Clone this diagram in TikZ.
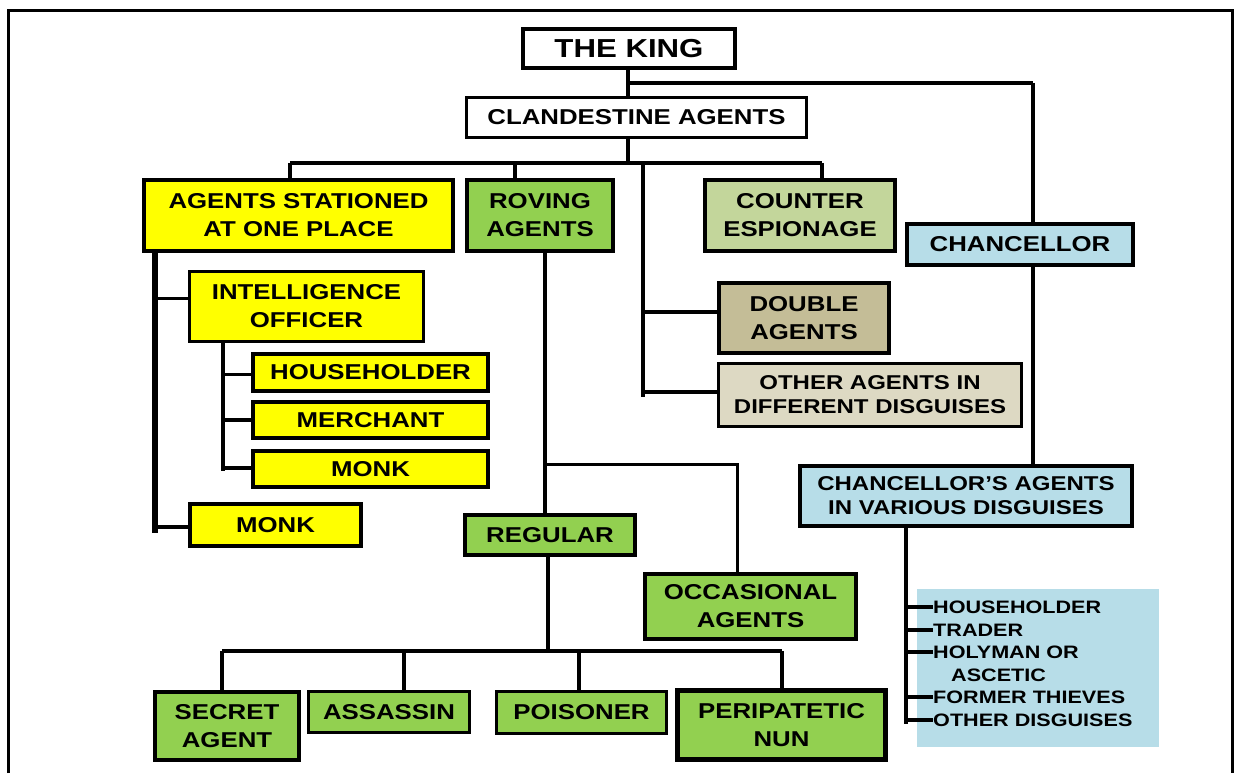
\documentclass[tikz,border=0pt]{standalone}
\usepackage{fontspec}
\usetikzlibrary{calc}
\setmainfont{Liberation Sans}[FakeStretch=1.2]
\definecolor{yel}{HTML}{FFFF00}
\definecolor{grn}{HTML}{92D050}
\definecolor{olivegrn}{HTML}{C3D69B}
\definecolor{paleblue}{HTML}{B7DDE8}
\definecolor{khaki}{HTML}{C4BD97}
\definecolor{sand}{HTML}{DDD9C3}
\begin{document}
\begin{tikzpicture}[x=1pt,y=-1pt,
  box/.style={draw, line width=3.5pt, inner sep=0pt, align=center,
    font=\fontsize{21.5}{28}\selectfont\bfseries},
  smallbox/.style={box, font=\fontsize{20}{24}\selectfont\bfseries},
  conn/.style={line width=3.5pt},
  vconn/.style={line width=4.5pt},
  thinconn/.style={line width=3pt},
  item/.style={anchor=west, inner sep=0pt, text height=13pt, text depth=0pt,
    font=\fontsize{18}{22}\selectfont\bfseries},
  tick/.style={line width=4pt}]
\useasboundingbox (0,0) rectangle (1238,773);
% outer frame
\draw[line width=3pt] (8,773) -- (8,11) -- (1232,11) -- (1232,773);

% top of the hierarchy
\node[box, line width=4pt, fill=white, minimum width=212pt, minimum height=39pt,
  font=\fontsize{26}{30}\selectfont\bfseries] (king) at (629,48.5) {THE KING};
\node[box, line width=3pt, fill=white, minimum width=340pt, minimum height=40pt] (clan) at (636.5,117.5) {CLANDESTINE AGENTS};

% first level
\node[box, fill=yel, minimum width=309pt, minimum height=71pt] (stat) at (298.5,215.5) {AGENTS STATIONED\\AT ONE PLACE};
\node[box, line width=4pt, fill=grn, minimum width=146pt, minimum height=71pt] (rov) at (540,215.5) {ROVING\\AGENTS};
\node[box, line width=4pt, fill=olivegrn, minimum width=190pt, minimum height=71pt] (counter) at (800,215.5) {COUNTER\\ESPIONAGE};
\node[box, fill=paleblue, minimum width=226pt, minimum height=41pt] (chanc) at (1020,244.5) {CHANCELLOR};
\node[box, line width=4pt, fill=khaki, minimum width=170pt, minimum height=70pt] (double) at (804,318) {DOUBLE\\AGENTS};
\node[smallbox, line width=3pt, fill=sand, minimum width=303pt, minimum height=63pt] (other) at (870,395) {OTHER AGENTS IN\\DIFFERENT DISGUISES};
\node[smallbox, fill=paleblue, minimum width=332pt, minimum height=60pt] (cagents) at (966,496) {CHANCELLOR’S AGENTS\\IN VARIOUS DISGUISES};

% agents stationed at one place
\node[box, line width=3pt, fill=yel, minimum width=234pt, minimum height=70pt] (intel) at (306.5,306.5) {INTELLIGENCE\\OFFICER};
\node[box, line width=4pt, fill=yel, minimum width=235pt, minimum height=37pt] (house) at (370.5,372.5) {HOUSEHOLDER};
\node[box, fill=yel, minimum width=235pt, minimum height=36pt] (merch) at (370.5,420) {MERCHANT};
\node[box, fill=yel, minimum width=235pt, minimum height=36pt] (monka) at (370.5,469) {MONK};
\node[box, fill=yel, minimum width=171pt, minimum height=42pt] (monkb) at (275.5,525) {MONK};

% roving agents
\node[box, fill=grn, minimum width=170pt, minimum height=40pt] (reg) at (550,535) {REGULAR};
\node[box, line width=4pt, fill=grn, minimum width=211pt, minimum height=65pt] (occ) at (750.5,606.5) {OCCASIONAL\\AGENTS};
\node[box, line width=4pt, fill=grn, minimum width=144pt, minimum height=68pt] (secret) at (227,726) {SECRET\\AGENT};
\node[box, line width=3pt, fill=grn, minimum width=161pt, minimum height=41pt] (assassin) at (389,712) {ASSASSIN};
\node[box, line width=3pt, fill=grn, minimum width=170pt, minimum height=42pt] (poison) at (581.5,712.5) {POISONER};
\node[box, line width=5pt, fill=grn, minimum width=208pt, minimum height=69pt] (peri) at (781.5,725) {PERIPATETIC\\NUN};

% chancellor's disguises
\node[fill=paleblue, inner sep=0pt, minimum width=242pt, minimum height=158pt] (list) at (1038,668) {};
\node[item] (l1) at (933,607) {HOUSEHOLDER};
\node[item] (l2) at (933,630) {TRADER};
\node[item] (l3) at (933,652) {HOLYMAN OR};
\node[item] (l3b) at (951,675) {ASCETIC};
\node[item] (l4) at (933,697) {FORMER THIEVES};
\node[item] (l5) at (933,720) {OTHER DISGUISES};

% junction points
\coordinate (kc) at (1033,83);
\coordinate (bus) at (628,163);
\coordinate (busl) at (290,163);
\coordinate (busr) at (822,163);
\coordinate (rovdrop) at (515,163);
\coordinate (spine) at (643,397);
\coordinate (sleft) at (155,533);
\coordinate (sint) at (223,471);
\coordinate (rovdown) at (545,464);
\coordinate (occtop) at (737,464);
\coordinate (regbus) at (548,651);
\coordinate (da) at (222,651);
\coordinate (db) at (404,651);
\coordinate (dc) at (579,651);
\coordinate (dd) at (782,651);
\coordinate (cspine) at (906,724);

% king and clandestine agents
\draw[vconn] (king.south -| bus) -- (clan.north -| bus);
\draw[conn] (kc -| bus) -- (kc);
\draw[vconn] (kc) -- (kc |- chanc.north);
\draw[vconn] (clan.south -| bus) -- (bus);
\draw[conn] (busl) -- (busr);
\draw[conn] (busl) -- (busl |- stat.north);
\draw[conn] (rovdrop) -- (rovdrop |- rov.north);
\draw[conn] (busr) -- (busr |- counter.north);
\draw[vconn] (spine |- bus) -- (spine);
\draw[conn] ($(spine |- double.west)+(0,-6)$) -- ($(double.west)+(0,-6)$);
\draw[conn] ($(spine |- other.west)+(0,-3)$) -- ($(other.west)+(0,-3)$);

% stationed agents
\draw[line width=5.5pt] (stat.south -| sleft) -- (sleft);
\draw[conn] ($(sleft |- intel.west)+(0,-8)$) -- ($(intel.west)+(0,-8)$);
\draw[conn] ($(sleft |- monkb.west)+(0,2)$) -- ($(monkb.west)+(0,2)$);
\draw[vconn] (intel.south -| sint) -- (sint);
\draw[conn] ($(sint |- house.west)+(0,2)$) -- ($(house.west)+(0,2)$);
\draw[conn] (sint |- merch.west) -- (merch.west);
\draw[conn] ($(sint |- monka.west)+(0,-1)$) -- ($(monka.west)+(0,-1)$);

% roving agents
\draw[vconn] (rov.south -| rovdown) -- (reg.north -| rovdown);
\draw[thinconn] (rovdown) -- (occtop) -- (occtop |- occ.north);
\draw[vconn] (reg.south -| regbus) -- (regbus);
\draw[conn] (da) -- (dd);
\draw[conn] (da) -- (da |- secret.north);
\draw[conn] (db) -- (db |- assassin.north);
\draw[vconn] (dc) -- (dc |- poison.north);
\draw[conn] (dd) -- (dd |- peri.north);

% chancellor
\draw[vconn] (chanc.south -| kc) -- (cagents.north -| kc);
\draw[vconn] (cagents.south -| cspine) -- (cspine);
\foreach \n in {l1,l2,l3,l4,l5}
  \draw[tick] (cspine |- \n.west) -- (\n.west);
\end{tikzpicture}
\end{document}
